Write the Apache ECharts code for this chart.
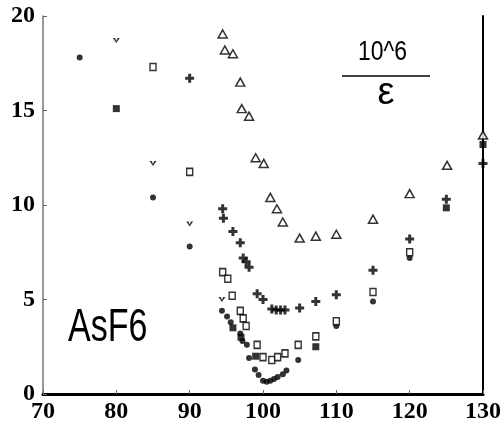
<!DOCTYPE html>
<html>
<head>
<meta charset="utf-8">
<script src="https://cdn.jsdelivr.net/npm/echarts@6/dist/echarts.min.js"></script>
<style>
html,body{margin:0;padding:0;background:#fff;}
#chart{width:504px;height:428px;}
</style>
</head>
<body>
<div id="chart"></div>
<script>
// ---- data (x, 10^6/epsilon) ----
var xTicks = [70, 80, 90, 100, 110, 120, 130];
var yTicks = [0, 5, 10, 15, 20];

var triangles = [[94.5,19.05],[94.8,18.2],[95.9,18.0],[96.9,16.5],[97.1,15.1],[98.1,14.7],[99.0,12.5],[100.1,12.2],[101.0,10.4],[101.9,9.8],[102.7,9.1],[105.0,8.25],[107.2,8.35],[110.0,8.45],[115.0,9.25],[120.0,10.6],[125.1,12.1],[130.0,13.7]];
var pluses = [[90,16.7],[94.5,9.8],[94.6,9.3],[95.9,8.6],[96.9,8.0],[97.3,7.2],[97.7,7.0],[98.1,6.7],[99.2,5.3],[100,5.0],[101.2,4.5],[101.8,4.45],[102.4,4.45],[103,4.45],[105,4.55],[107.2,4.9],[110,5.25],[115,6.55],[120,8.2],[125,10.3],[130,12.2]];
var openSquares = [[85,17.3],[90,11.75],[94.5,6.45],[95.2,6.1],[95.8,5.2],[96.9,4.4],[97.3,4.0],[97.7,3.6],[99.2,2.6],[100,1.95],[101.2,1.8],[102,1.95],[103,2.15],[104.8,2.6],[107.2,3.05],[110,3.85],[115,5.4],[120,7.5]];
var vMarks = [[80,18.7],[85,12.2],[90,9.0],[94.4,5.0]];
var filledCircles = [[75,17.8],[85,10.4],[90,7.8],[94.4,4.4],[95.1,4.1],[95.6,3.8],[96.9,3.2],[97.2,2.8],[97.8,2.6],[98.1,1.9],[98.9,1.3],[99.4,1.0],[100,0.7],[100.5,0.65],[101,0.7],[101.5,0.8],[102,0.9],[102.7,1.05],[103.2,1.25],[104.8,1.8],[110,3.6],[115,4.9],[120,7.2]];
var filledSquares = [[80,15.1],[95.9,3.5],[97,3.0],[99,2.0],[107.2,2.5],[125,9.85],[130,13.2]];

var chart = echarts.init(document.getElementById('chart'), null, {renderer:'canvas'});

var labelFont = {fontFamily:'Liberation Serif', fontWeight:'bold', fontSize:24, color:'#000'};

var option = {
  animation:false,
  backgroundColor:'#fff',
  grid:{left:43, top:16, right:21, bottom:34, containLabel:false},
  xAxis:[{
    type:'value', min:70, max:130, interval:10, position:'bottom',
    axisLine:{show:true, onZero:false, lineStyle:{color:'#000', width:3}},
    axisTick:{show:true, inside:true, length:4, lineStyle:{color:'#666', width:1}},
    axisLabel:Object.assign({margin:6, formatter:function(v){return xTicks.indexOf(v)>=0? String(v):'';}}, labelFont),
    splitLine:{show:false}
  },{
    type:'value', min:70, max:130, position:'top',
    axisLine:{show:true, lineStyle:{color:'#000', width:2}},
    axisTick:{show:false}, axisLabel:{show:false}, splitLine:{show:false}
  }],
  yAxis:[{
    type:'value', min:0, max:20, interval:5, position:'left',
    axisLine:{show:true, onZero:false, lineStyle:{color:'#777', width:1.5}},
    axisTick:{show:true, inside:true, length:4, lineStyle:{color:'#666', width:1}},
    axisLabel:Object.assign({margin:8, formatter:function(v){return yTicks.indexOf(v)>=0? String(v):'';}}, labelFont),
    splitLine:{show:false}
  },{
    type:'value', min:0, max:20, position:'right',
    axisLine:{show:true, lineStyle:{color:'#000', width:2}},
    axisTick:{show:false}, axisLabel:{show:false}, splitLine:{show:false}
  }],
  series:[
    {type:'scatter', data:filledCircles, symbol:'circle', symbolSize:6, itemStyle:{color:'#000'}},
    {type:'scatter', data:filledSquares, symbol:'rect', symbolSize:7, itemStyle:{color:'#000'}},
    {type:'scatter', data:vMarks, symbol:'path://M0,0 L2,0 L3,3 L4,0 L6,0 L3,5 Z', symbolSize:[7,5], itemStyle:{color:'#000'}},
    {type:'scatter', data:pluses, symbol:'path://M2,0 H4 V2 H6 V4 H4 V6 H2 V4 H0 V2 H2 Z', symbolSize:9, itemStyle:{color:'#000'}},
    {type:'scatter', data:openSquares, symbol:'rect', symbolSize:[6,7], itemStyle:{color:'#fff', borderColor:'#000', borderWidth:1.5}},
    {type:'scatter', data:triangles, symbol:'triangle', symbolSize:[9,8], itemStyle:{color:'#fff', borderColor:'#000', borderWidth:1.5}}
  ],
  graphic:[
    {type:'text', x:358, y:52, scaleX:0.82, style:{text:'10^6', font:"28px 'Liberation Sans', Arial", fill:'#000', align:'left', verticalAlign:'middle'}},
    {type:'line', shape:{x1:342, y1:76, x2:430, y2:76}, style:{stroke:'#000', lineWidth:1.5}},
    {type:'text', x:386, y:94, style:{text:'ε', font:"38px 'Liberation Sans', Arial", fill:'#000', align:'center', verticalAlign:'middle'}},
    {type:'text', x:68, y:328, scaleX:0.74, style:{text:'AsF6', font:"46px 'Liberation Sans', Arial", fill:'#000', align:'left', verticalAlign:'middle'}}
  ]
};
chart.setOption(option);
</script>
</body>
</html>
